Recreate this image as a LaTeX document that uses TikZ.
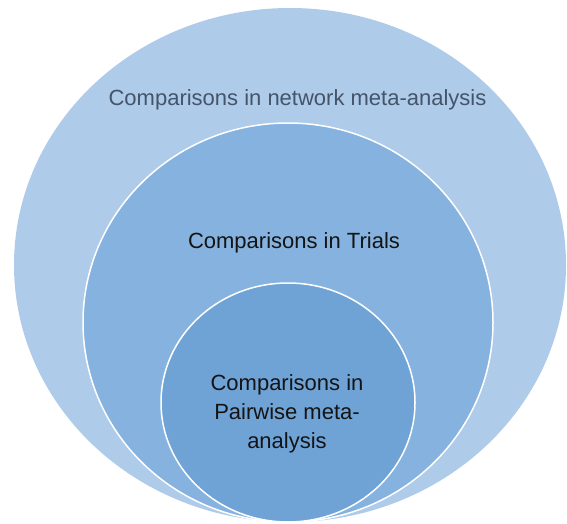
\documentclass[tikz,border=0pt]{standalone}
\usepackage{fontspec}
\setmainfont{Liberation Sans}
\definecolor{outerfill}{RGB}{174,203,233}
\definecolor{midfill}{RGB}{133,178,223}
\definecolor{innerfill}{RGB}{111,163,214}
\definecolor{outertext}{RGB}{68,84,106}
\definecolor{darktext}{RGB}{20,20,20}
\begin{document}
\begin{tikzpicture}[x=1pt,y=1pt,
  ring/.style={draw=white,line width=1.5pt},
  lbl/.style={font=\fontsize{22}{29}\selectfont,anchor=base,align=center,inner sep=0pt}]
\useasboundingbox (0,0) rectangle (567,523);
\clip (0,0) rectangle (567,523);
\fill[outerfill] (290,258) ellipse [x radius=276,y radius=257];
\filldraw[ring,fill=midfill] (288,200.5) ellipse [x radius=205,y radius=199.5];
\filldraw[ring,fill=innerfill] (288,120.5) ellipse [x radius=127,y radius=119.5];
\node[lbl,text=outertext] (nma) at (297.5,417) {Comparisons in network meta-analysis};
\node[lbl,text=darktext] (trials) at (294,275) {Comparisons in Trials};
\node[lbl,text=darktext] (pair1) at (287,133) {Comparisons in};
\node[lbl,text=darktext] (pair2) at (287,104) {Pairwise meta-};
\node[lbl,text=darktext] (pair3) at (287,75) {analysis};
\end{tikzpicture}
\end{document}
